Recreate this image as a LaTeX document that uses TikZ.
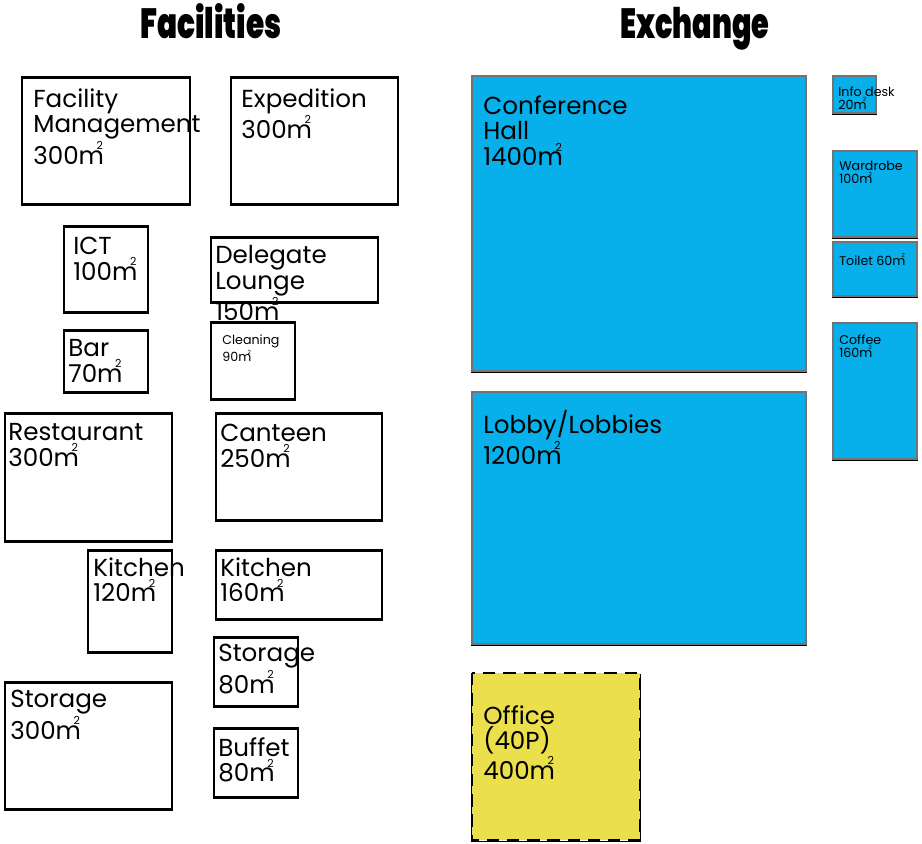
\documentclass[tikz,border=0pt]{standalone}
\usepackage{fontspec}
\usepackage{tikz}

\setmainfont{Poppins}
\newfontfamily\headfont{Poppins}[UprightFont={* Black}]

\definecolor{exblue}{RGB}{7,176,235}
\definecolor{offyellow}{RGB}{235,223,76}

\newcommand{\sqm}{m\kern-0.3em\raisebox{0.6em}{\scalebox{0.45}{2}}}
\newcommand{\bigtxt}{\fontsize{14}{14.7}\selectfont}
\newcommand{\smalltxt}{\fontsize{7.2}{7.5}\selectfont}

\tikzset{
  room/.style={draw, line width=0.6pt,
    preaction={draw, line width=0.6pt, transform canvas={yshift=-1.1pt}}},
  exroom/.style={room, fill=exblue, draw=black!55},
  offroom/.style={room, fill=offyellow, dash pattern=on 7pt off 4.5pt,
    preaction={draw, line width=0.6pt, dash pattern=on 7pt off 4.5pt,
      transform canvas={yshift=-1.1pt}}},
  lbl/.style={anchor=north west, inner sep=0pt, align=left, font=\bigtxt},
  slbl/.style={lbl, font=\smalltxt},
  head/.style={anchor=base, inner sep=0pt, font=\headfont\fontsize{24}{24}\selectfont}
}

\begin{document}
\begin{tikzpicture}[x=0.02cm, y=-0.02cm]
\useasboundingbox (0,0) rectangle (922,843);

%------------------ FACILITIES ------------------%
\node[head] (facT) at (211,38) {\scalebox{0.7}[1]{Facilities}};

\draw[room] (22,77) rectangle (190,204);
\node[lbl] (fm) at (33,88) {Facility\\Management\\300\sqm};

\draw[room] (231,77) rectangle (398,204);
\node[lbl] (exped) at (241,88) {Expedition\\300\sqm};

\draw[room] (64,226) rectangle (148,312);
\node[lbl] (ict) at (73,237) {ICT\\100\sqm};

\draw[room] (211,237) rectangle (378,302);
\node[lbl] (deleg) at (215,245) {Delegate\\Lounge\\150\sqm};

\draw[room] (64,330) rectangle (148,392);
\node[lbl] (bar) at (68,339) {Bar\\70\sqm};

\draw[room] (211,322) rectangle (295,399);
\node[slbl] (clean) at (222,335) {Cleaning\\90\sqm};

\draw[room] (5,413) rectangle (172,541);
\node[lbl] (rest) at (8,423) {Restaurant\\300\sqm};

\draw[room] (216,413) rectangle (382,520);
\node[lbl] (cant) at (220,424) {Canteen\\250\sqm};

\draw[room] (88,550) rectangle (172,652);
\node[lbl] (kitA) at (93,557) {Kitchen\\120\sqm};

\draw[room] (216,550) rectangle (382,619);
\node[lbl] (kitB) at (220,557) {Kitchen\\160\sqm};

\draw[room] (214,637) rectangle (298,706);
\node[lbl] (storA) at (218,644) {Storage\\80\sqm};

\draw[room] (5,682) rectangle (172,809);
\node[lbl] (storB) at (10,690) {Storage\\300\sqm};

\draw[room] (214,728) rectangle (298,797);
\node[lbl] (buff) at (218,737) {Buffet\\80\sqm};

%------------------ EXCHANGE ------------------%
\node[head] (excT) at (695,38) {\scalebox{0.68}[1]{Exchange}};

\draw[exroom] (472,76) rectangle (806,371);
\node[lbl] (conf) at (483,95) {Conference\\Hall\\1400\sqm};

\draw[exroom] (472,392) rectangle (806,644);
\node[lbl] (lobby) at (483,410) {Lobby/Lobbies\\1200\sqm};

\draw[offroom] (472,673) rectangle (640,840);
\node[lbl] (office) at (483,705) {Office\\(40P)\\400\sqm};

\draw[exroom] (833,76) rectangle (876,113);
\node[slbl] (info) at (838,86) {Info desk\\20\sqm};

\draw[exroom] (833,151) rectangle (917,237);
\node[slbl] (ward) at (839,161) {Wardrobe\\100\sqm};

\draw[exroom] (833,242) rectangle (917,296);
\node[slbl] (toil) at (839,253) {Toilet 60\sqm};

\draw[exroom] (833,323) rectangle (917,459);
\node[slbl] (coff) at (839,334) {Coffee\\160\sqm};

\end{tikzpicture}
\end{document}
